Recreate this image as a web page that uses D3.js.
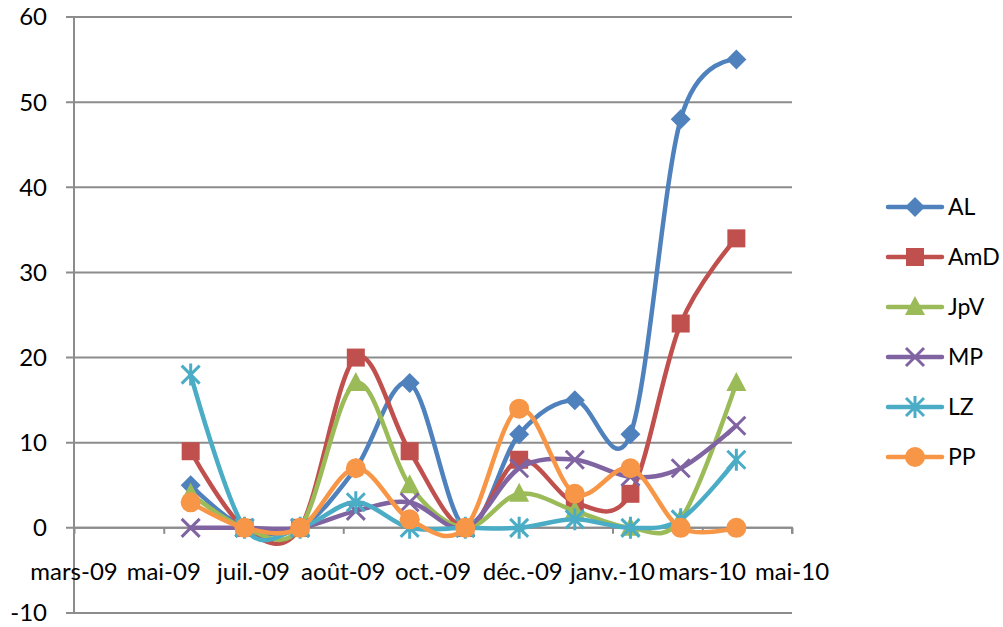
<!DOCTYPE html>
<html>
<head>
<meta charset="utf-8">
<script src="https://cdn.jsdelivr.net/npm/d3@7"></script>
<style>
  html, body { margin: 0; padding: 0; background: #fff; }
  svg { display: block; }
  text { font-family: Lato, "Open Sans", sans-serif; fill: #000; }
</style>
</head>
<body>
<svg id="chart" width="1003" height="627"></svg>
<script>
// ---- data ----
const dates = ["2009-06-01","2009-07-01","2009-08-01","2009-09-01","2009-10-01","2009-11-01",
               "2009-12-01","2010-01-01","2010-02-01","2010-03-01","2010-04-01"];
const AL  = [5, 0, 0, 7, 17, 0, 11, 15, 11, 48, 55];
const AmD = [9, 0, 0, 20, 9, 0, 8, 3, 4, 24, 34];
const JpV = [4, 0, 0, 17, 5, 0, 4, 2, 0, 1, 17];
const MP  = [0, 0, 0, 2, 3, 0, 7, 8, 6, 7, 12];
const LZ  = [18, 0, 0, 3, 0, 0, 0, 1, 0, 1, 8];
const PP  = [3, 0, 0, 7, 1, 0, 14, 4, 7, 0, 0];
const seriesNames = ["AL", "AmD", "JpV", "MP", "LZ", "PP"];
const seriesValues = [AL, AmD, JpV, MP, LZ, PP];
const colors = ["#4F81BD", "#C0504D", "#9BBB59", "#8064A2", "#4BACC6", "#F79646"];
const markers = ["diamond", "square", "triangle", "x", "star", "circle"];
const xDomain = ["2009-03-28", "2010-05-02"];
const xTicks = ["2009-03-28","2009-05-17","2009-07-06","2009-08-25","2009-10-14",
                "2009-12-03","2010-01-22","2010-03-13","2010-05-02"];
const monthNames = ["janv.","févr.","mars","avr.","mai","juin","juil.","août","sept.","oct.","nov.","déc."];
const yTicks = [-10, 0, 10, 20, 30, 40, 50, 60];

// ---- layout ----
const svg = d3.select("#chart");
const parse = d3.utcParse("%Y-%m-%d");
const pLeft = 74, pRight = 792, pTop = 17, pBottom = 613;
const x = d3.scaleUtc().domain(xDomain.map(parse)).range([pLeft, pRight]);
const y = d3.scaleLinear().domain([-10, 60]).range([pBottom, pTop]);
const gridColor = "#8c8c8c";
const fmt = d => monthNames[d.getUTCMonth()] + "-" + String(d.getUTCFullYear()).slice(2);

// gridlines
svg.append("g").selectAll("line").data(yTicks).join("line")
  .attr("x1", pLeft - 8).attr("x2", pRight)
  .attr("y1", d => y(d)).attr("y2", d => y(d))
  .attr("stroke", gridColor).attr("stroke-width", 2);

// y axis line
svg.append("line").attr("x1", pLeft).attr("x2", pLeft).attr("y1", pTop).attr("y2", pBottom)
  .attr("stroke", gridColor).attr("stroke-width", 2);

// y labels
svg.append("g").selectAll("text").data(yTicks).join("text")
  .attr("x", 47).attr("y", d => y(d)).attr("dy", "0.35em")
  .attr("text-anchor", "end").attr("font-size", 24)
  .text(d => d);

// x axis at y=0 with ticks downward
const xAxis = d3.axisBottom(x).tickValues(xTicks.map(parse)).tickSize(6).tickFormat("");
const gx = svg.append("g").attr("transform", `translate(0,${y(0)})`).call(xAxis);
gx.select(".domain").attr("stroke", gridColor).attr("stroke-width", 2)
  .attr("d", `M${pLeft},6V0H${pRight}V6`);
gx.selectAll(".tick line").attr("stroke", gridColor).attr("stroke-width", 2);

// x labels
svg.append("g").selectAll("text").data(xTicks.map(parse)).join("text")
  .attr("x", d => x(d)).attr("y", 580)
  .attr("text-anchor", "middle").attr("font-size", 24)
  .text(fmt);

// marker drawing
function drawMarker(g, type, color) {
  if (type === "diamond") {
    g.append("path").attr("d", "M0,-10L10,0L0,10L-10,0Z").attr("fill", color);
  } else if (type === "square") {
    g.append("rect").attr("x", -9).attr("y", -9).attr("width", 18).attr("height", 18).attr("fill", color);
  } else if (type === "triangle") {
    g.append("path").attr("d", "M0,-11L10,8L-10,8Z").attr("fill", color);
  } else if (type === "circle") {
    g.append("circle").attr("r", 10).attr("fill", color);
  } else if (type === "x") {
    g.append("path").attr("d", "M-9,-9L9,9M-9,9L9,-9").attr("stroke", color).attr("stroke-width", 3).attr("fill", "none");
  } else if (type === "star") {
    g.append("path").attr("d", "M-9,-9L9,9M-9,9L9,-9M0,-11V11").attr("stroke", color).attr("stroke-width", 3).attr("fill", "none");
  }
}

const line = d3.line().curve(d3.curveCardinal.tension(0))
  .x(d => x(d.date)).y(d => y(d.value));

seriesNames.forEach((name, i) => {
  const pts = dates.map((dt, j) => ({ date: parse(dt), value: seriesValues[i][j] }));
  const g = svg.append("g").attr("class", "series");
  g.append("path").datum(pts).attr("d", line)
    .attr("fill", "none").attr("stroke", colors[i]).attr("stroke-width", 4.5)
    .attr("stroke-linejoin", "round").attr("stroke-linecap", "round");
  g.selectAll("g.m").data(pts).join("g").attr("class", "m")
    .attr("transform", d => `translate(${x(d.date)},${y(d.value)})`)
    .each(function () { drawMarker(d3.select(this), markers[i], colors[i]); });
});

// legend
const legend = svg.append("g");
seriesNames.forEach((name, i) => {
  const ly = 207 + i * 50;
  const lg = legend.append("g").attr("transform", `translate(0,${ly})`);
  lg.append("line").attr("x1", 888).attr("x2", 942).attr("y1", 0).attr("y2", 0)
    .attr("stroke", colors[i]).attr("stroke-width", 4.5).attr("stroke-linecap", "round");
  const mg = lg.append("g").attr("transform", "translate(915,0)");
  drawMarker(mg, markers[i], colors[i]);
  lg.append("text").attr("x", 948).attr("y", 0).attr("dy", "0.35em")
    .attr("font-size", 23).text(name);
});
</script>
</body>
</html>
